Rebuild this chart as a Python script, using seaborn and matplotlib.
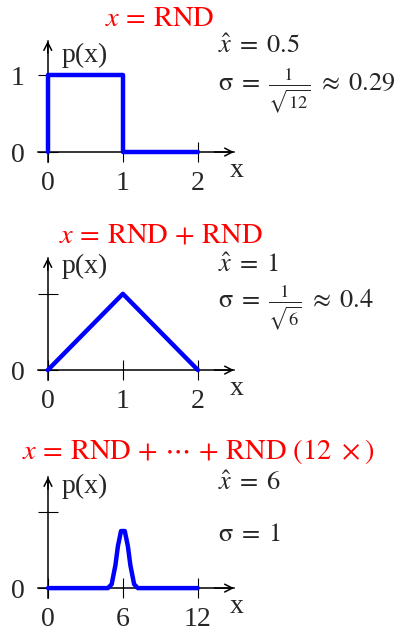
import matplotlib
matplotlib.use('Agg')
import matplotlib.pyplot as plt
import seaborn as sns

# datos de las tres curvas
x_rnd = [0, 0, 1, 1, 2]
p_rnd = [0, 1, 1, 0, 0]

x_rnd2 = [0, 1, 2]
p_rnd2 = [0, 1, 0]

x_rnd12 = [0, 4.8, 5.1, 5.4, 5.6, 5.85, 6.15, 6.4, 6.6, 6.9, 7.2, 12]
p_rnd12 = [0, 0, 0.05, 0.3, 0.55, 0.75, 0.75, 0.55, 0.3, 0.05, 0, 0]

titulos = [r'$x\,=\,\mathrm{RND}$',
           r'$x\,=\,\mathrm{RND}\,+\,\mathrm{RND}$',
           r'$x\,=\,\mathrm{RND}\,+\,\cdots\,+\,\mathrm{RND}\ (12\ \times)$']
medias = [r'$\hat{x}\;=\;0.5$', r'$\hat{x}\;=\;1$', r'$\hat{x}\;=\;6$']
sigmas = [r'$\mathrm{\sigma}\;=\;\frac{1}{\sqrt{12}}\;\approx\;0.29$',
          r'$\mathrm{\sigma}\;=\;\frac{1}{\sqrt{6}}\;\approx\;0.4$',
          r'$\mathrm{\sigma}\;=\;1$']
xticks = [[0, 1, 2], [0, 1, 2], [0, 6, 12]]
yticklabels = [['0', '1'], ['0', ''], ['0', '']]

sns.set_style('white')
plt.rcParams['font.family'] = ['Liberation Serif', 'DejaVu Serif']
plt.rcParams['mathtext.fontset'] = 'stix'

W, H = 404, 635
fig = plt.figure(figsize=(W / 100, H / 100), dpi=100)


def px(x, y):
    return x / W, 1 - y / H


# posicion de cada panel en pixeles: izquierda, arriba, abajo
paneles = [(38, 41, 162), (38, 258, 380), (38, 477, 598)]
xlims = [(-0.13, 2.48), (-0.13, 2.48), (-0.8, 14.9)]
ylims = [(-0.13, 1.45), (-0.13, 1.47), (-0.13, 1.46)]
datos = [(x_rnd, p_rnd), (x_rnd2, p_rnd2), (x_rnd12, p_rnd12)]

for i in range(3):
    l, t, b = paneles[i]
    x0, y0 = px(l, b)
    ax = fig.add_axes([x0, y0, 196 / W, (b - t) / H])
    xs, ys = datos[i]
    sns.lineplot(x=xs, y=ys, ax=ax, color='blue', lw=3.2, sort=False,
                 estimator=None, errorbar=None, zorder=3)
    ax.set_xlim(*xlims[i])
    ax.set_ylim(*ylims[i])
    for s in ['top', 'right']:
        ax.spines[s].set_visible(False)
    ax.spines['left'].set_position(('data', 0))
    ax.spines['bottom'].set_position(('data', 0))
    for s in ['left', 'bottom']:
        ax.spines[s].set_color('black')
        ax.spines[s].set_linewidth(1.1)
    ax.set_xticks(xticks[i])
    ax.set_xticklabels([str(v) for v in xticks[i]])
    ax.set_yticks([0, 1])
    ax.set_yticklabels(yticklabels[i])
    ax.tick_params(direction='inout', length=15, width=0.8, color='black',
                   labelsize=20, left=True, bottom=True)
    ax.tick_params(axis='x', pad=6)
    ax.tick_params(axis='y', pad=9)
    # flechas de los ejes
    ax.annotate('', xy=(1, 0), xytext=(0.9, 0),
                xycoords=('axes fraction', 'data'),
                arrowprops=dict(arrowstyle='->, head_length=0.55, head_width=0.28',
                                lw=1.1, color='black', shrinkA=0, shrinkB=0))
    ax.annotate('', xy=(0, 1), xytext=(0, 0.9),
                xycoords=('data', 'axes fraction'),
                arrowprops=dict(arrowstyle='->, head_length=0.55, head_width=0.28',
                                lw=1.1, color='black', shrinkA=0, shrinkB=0))

# textos
tit_pos = [(160, 26), (161, 243), (198, 459)]
med_pos = [(218, 53), (218, 272), (218, 490)]
sig_pos = [(218, 91), (218, 308), (218, 541)]
px_pos = [(62, 62), (62, 273), (62, 493)]
xl_pos = [(230, 177), (230, 395), (230, 613)]

for i in range(3):
    fig.text(*px(*tit_pos[i]), titulos[i], color='red', fontsize=20.5,
             ha='center', va='baseline')
    fig.text(*px(*med_pos[i]), medias[i], fontsize=19, va='baseline')
    fig.text(*px(*sig_pos[i]), sigmas[i], fontsize=19, va='baseline')
    fig.text(*px(*px_pos[i]), 'p(x)', fontsize=20, va='baseline')
    fig.text(*px(*xl_pos[i]), 'x', fontsize=20, va='baseline')

plt.savefig('out.png', dpi=100)
